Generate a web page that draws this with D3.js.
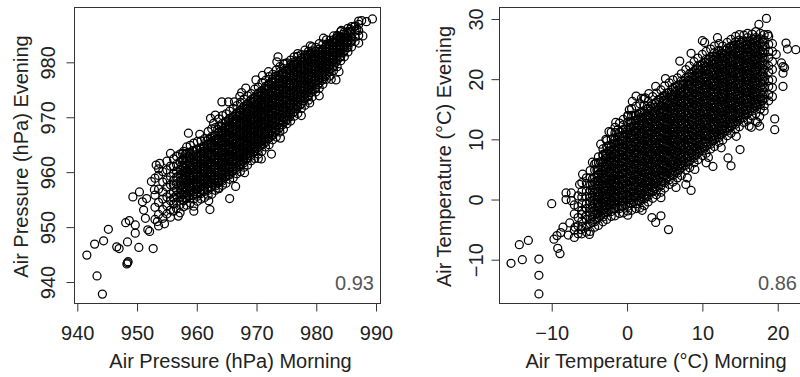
<!DOCTYPE html>
<html>
<head>
<meta charset="utf-8">
<script src="https://cdn.jsdelivr.net/npm/d3@7"></script>
<style>
  body { margin: 0; background: #fff; }
  svg { display: block; font-family: "Liberation Sans", Arial, Helvetica, sans-serif; }
</style>
</head>
<body>
<svg id="chart" width="800" height="377"></svg>
<script>
// ---- data ----
const pressureXTicks = [940, 950, 960, 970, 980, 990];
const pressureYTicks = [940, 950, 960, 970, 980];
const tempXTicks = [-10, 0, 10, 20];
const tempYTicks = [-10, 0, 10, 20, 30];

const titles = {
  pressureX: 'Air Pressure (hPa) Morning',
  pressureY: 'Air Pressure (hPa) Evening',
  tempX: 'Air Temperature (°C) Morning',
  tempY: 'Air Temperature (°C) Evening'
};
const corrLabels = ['0.93', '0.86'];

// isolated points [morning, evening]
const pressureSparse = [
  [941.6,944.9],[943.3,941.1],[944.2,937.8],[942.9,946.9],[944.4,947.5],[945.2,949.6],[946.6,946.4],
  [947.0,946.1],[948.4,947.3],[948.3,943.3],[948.4,943.5],[948.5,943.7],[950.3,946.3],[952.7,946.1],
  [949.7,948.9],[948.1,950.8],[948.7,951.2],[949.3,955.5],[950.4,956.4],[950.9,954.6],[949.7,950.4],
  [951.4,951.6],[951.8,949.5],[952.1,949.2],[951.1,953.1],[952.9,956.8],[953.2,961.3],[953.8,961.6],
  [955.6,963.4],[965.5,955.2],[962.2,953.2],[953.4,951.0],[958.6,967.1],[964.2,972.8],[965.3,972.8],
  [972.0,978.3],[973.6,981.0],[973.4,980.1],[979.0,983.0],[979.0,981.7],[981.2,984.4],[983.8,978.3],
  [978.9,972.6],[972.5,963.3],[970.8,962.4],[970.3,962.5],[966.5,957.4],[963.6,957.1],[983.3,976.8],
  [989.4,987.9],[987.6,987.6],[988.4,987.4],[986.4,986.5],[986.8,986.0],[987.8,984.8],[987.1,983.5],
  [984.2,985.8],[983.6,984.7],[982.3,983.2],[974.8,979.8],[976.4,979.7],[982.5,976.9],[969.9,976.8],
  [968.2,975.3],[967.2,973.8],[966.3,972.8],[975.0,969.5],[962.3,969.8],[963.1,970.4],[957.6,963.4],
  [960.5,966.9],[962.8,968.9],[967.5,974.5],[971.0,977.6],[959.5,952.9],[962.0,954.8],[968.0,959.9],
  [974.0,966.2],[977.5,970.3],[980.5,973.9],[954.6,950.6],[956.9,952.0],[952.4,958.3],[951.6,955.2]
];

// dense part: [morning, evening values...]
const pressureCols = [
  [953.0, 951.4, 953.6, 955.8, 958.9],
  [953.6, 950.2, 952.3, 954.5, 956.9, 959.4, 960.6],
  [954.3, 951.6, 953.2, 955.1, 956.4, 958.2, 960.1],
  [955.0, 952.4, 953.9, 955.5, 957.3, 958.6, 960.4, 962.0],
  [955.6, 951.8, 953.1, 954.8, 956.0, 957.7, 959.2, 961.1],
  [956.1, 952.9, 954.2, 955.3, 956.4, 957.6, 958.5, 959.8, 961.0, 962.4],
  [956.6, 953.4, 954.5, 955.8, 956.8, 957.9, 959.1, 960.2, 961.4, 962.9],
  [957.2, 952.6, 954.1, 955.4, 956.3, 957.5, 958.4, 959.6, 960.5, 961.9, 963.3],
  [957.8, 953.7, 954.8, 955.9, 957.1, 958.0, 958.9, 960.1, 961.1, 962.2, 963.8],
  [958.3, 954.0, 955.2, 956.0, 957.2, 958.1, 959.2, 960.0, 961.2, 962.1, 963.4, 964.6],
  [958.9, 954.4, 955.3, 956.6, 957.4, 958.5, 959.3, 960.4, 961.3, 962.4, 963.3, 964.9],
  [959.5, 953.8, 955.1, 956.1, 957.3, 958.0, 959.1, 959.8, 960.9, 961.7, 962.9, 963.8, 965.3],
  [960.1, 954.7, 955.6, 956.8, 957.5, 958.6, 959.3, 960.4, 961.1, 962.2, 962.9, 964.1, 965.6],
  [960.7, 955.1, 956.1, 956.9, 958.0, 958.7, 959.8, 960.5, 961.6, 962.3, 963.4, 964.2, 965.7],
  [961.3, 955.4, 956.5, 957.3, 958.4, 959.1, 960.2, 960.9, 962.0, 962.7, 963.8, 964.6, 966.1],
  [961.9, 955.8, 956.7, 957.9, 958.6, 959.7, 960.4, 961.5, 962.2, 963.3, 964.0, 965.1, 966.0, 967.4],
  [962.5, 956.0, 957.3, 958.1, 959.2, 959.9, 961.0, 961.7, 962.8, 963.5, 964.6, 965.3, 966.5, 967.9],
  [963.1, 956.7, 957.5, 958.7, 959.4, 960.5, 961.2, 962.3, 963.0, 964.1, 964.8, 965.9, 966.7, 968.1],
  [963.7, 957.0, 958.1, 958.9, 960.0, 960.7, 961.8, 962.5, 963.6, 964.3, 965.4, 966.1, 967.3, 968.4, 969.7],
  [964.3, 957.6, 958.4, 959.6, 960.3, 961.4, 962.1, 963.2, 963.9, 965.0, 965.7, 966.8, 967.5, 968.9, 970.3],
  [964.9, 958.0, 959.2, 960.0, 961.1, 961.8, 962.9, 963.6, 964.7, 965.4, 966.5, 967.2, 968.3, 969.2, 970.6],
  [965.5, 958.7, 959.5, 960.7, 961.4, 962.5, 963.2, 964.3, 965.0, 966.1, 966.8, 967.9, 968.6, 969.8, 971.1],
  [966.1, 959.0, 960.2, 961.0, 962.1, 962.8, 963.9, 964.6, 965.7, 966.4, 967.5, 968.2, 969.3, 970.1, 971.6],
  [966.7, 959.7, 960.5, 961.7, 962.4, 963.5, 964.2, 965.3, 966.0, 967.1, 967.8, 968.9, 969.6, 970.8, 972.1],
  [967.3, 960.1, 961.3, 962.1, 963.2, 963.9, 965.0, 965.7, 966.8, 967.5, 968.6, 969.3, 970.4, 971.3, 972.7],
  [967.9, 960.9, 961.7, 962.9, 963.6, 964.7, 965.4, 966.5, 967.2, 968.3, 969.0, 970.1, 970.8, 972.0, 973.3],
  [968.5, 961.3, 962.5, 963.3, 964.4, 965.1, 966.2, 966.9, 968.0, 968.7, 969.8, 970.5, 971.6, 972.4, 973.9],
  [969.1, 962.1, 962.9, 964.1, 964.8, 965.9, 966.6, 967.7, 968.4, 969.5, 970.2, 971.3, 972.0, 973.2, 974.3],
  [969.7, 962.5, 963.7, 964.5, 965.6, 966.3, 967.4, 968.1, 969.2, 969.9, 971.0, 971.7, 972.8, 973.6, 975.1],
  [970.3, 963.3, 964.1, 965.3, 966.0, 967.1, 967.8, 968.9, 969.6, 970.7, 971.4, 972.5, 973.2, 974.4, 975.5],
  [970.9, 963.8, 964.9, 965.7, 966.8, 967.5, 968.6, 969.3, 970.4, 971.1, 972.2, 972.9, 974.0, 974.8, 976.3],
  [971.5, 964.6, 965.4, 966.5, 967.2, 968.3, 969.0, 970.1, 970.8, 971.9, 972.6, 973.7, 974.4, 975.6, 976.7],
  [972.1, 965.0, 966.2, 967.0, 968.1, 968.8, 969.9, 970.6, 971.7, 972.4, 973.5, 974.2, 975.3, 976.1, 977.4],
  [972.7, 965.9, 966.7, 967.9, 968.6, 969.7, 970.4, 971.5, 972.2, 973.3, 974.0, 975.1, 975.8, 976.9, 977.8],
  [973.3, 966.4, 967.6, 968.4, 969.5, 970.2, 971.3, 972.0, 973.1, 973.8, 974.9, 975.6, 976.7, 977.5, 978.6],
  [973.9, 967.3, 968.1, 969.3, 970.0, 971.1, 971.8, 972.9, 973.6, 974.7, 975.4, 976.5, 977.2, 978.3, 979.2],
  [974.5, 967.8, 969.0, 969.8, 970.9, 971.6, 972.7, 973.4, 974.5, 975.2, 976.3, 977.0, 978.1, 978.9, 979.7],
  [975.1, 968.8, 969.6, 970.7, 971.4, 972.5, 973.2, 974.3, 975.0, 976.1, 976.8, 977.9, 978.6, 979.9],
  [975.7, 969.3, 970.5, 971.3, 972.4, 973.1, 974.2, 974.9, 976.0, 976.7, 977.8, 978.5, 979.6, 980.4],
  [976.3, 970.2, 971.0, 972.2, 972.9, 974.0, 974.7, 975.8, 976.5, 977.6, 978.3, 979.4, 980.1, 981.0],
  [976.9, 970.7, 971.9, 972.7, 973.8, 974.5, 975.6, 976.3, 977.4, 978.1, 979.2, 979.9, 981.1, 981.6],
  [977.5, 971.6, 972.4, 973.6, 974.3, 975.4, 976.1, 977.2, 977.9, 979.0, 979.7, 980.8, 981.4],
  [978.1, 972.2, 973.4, 974.2, 975.3, 976.0, 977.1, 977.8, 978.9, 979.6, 980.7, 981.3, 982.2],
  [978.7, 973.1, 973.9, 975.1, 975.8, 976.9, 977.6, 978.7, 979.4, 980.5, 981.2, 982.0],
  [979.3, 973.7, 974.9, 975.7, 976.8, 977.5, 978.6, 979.3, 980.4, 981.1, 982.1, 982.8],
  [979.9, 974.6, 975.4, 976.6, 977.3, 978.4, 979.1, 980.2, 980.9, 982.0, 982.7],
  [980.5, 975.3, 976.3, 977.1, 978.2, 978.9, 980.0, 980.7, 981.8, 982.4, 983.4],
  [981.1, 976.0, 977.0, 978.0, 978.7, 979.8, 980.5, 981.6, 982.3, 983.3],
  [981.7, 976.9, 977.7, 978.9, 979.6, 980.7, 981.4, 982.5, 983.2, 984.1],
  [982.3, 977.5, 978.7, 979.5, 980.6, 981.3, 982.4, 983.1, 984.0],
  [982.9, 978.5, 979.3, 980.5, 981.2, 982.3, 983.0, 984.1, 984.8],
  [983.5, 979.2, 980.4, 981.2, 982.3, 983.0, 984.0, 984.9],
  [984.1, 980.3, 981.1, 982.2, 982.9, 984.0, 984.7, 985.6],
  [984.7, 981.0, 982.1, 982.8, 983.9, 984.6, 985.5],
  [985.3, 981.9, 982.7, 983.8, 984.5, 985.6, 986.2],
  [985.9, 982.8, 983.9, 984.6, 985.7, 986.5],
  [986.5, 983.8, 984.6, 985.7, 986.6],
  [987.1, 984.9, 985.8, 986.9, 987.5]
];

// the darkest middle of the pressure cloud
const pressureCore = [
  [957.5, 955.0, 955.9, 956.8, 957.7, 958.6, 959.5, 960.4, 961.3, 962.2],
  [958.1, 955.4, 956.3, 957.2, 958.1, 959.0, 959.9, 960.8, 961.7, 962.6, 963.3],
  [958.7, 955.6, 956.5, 957.4, 958.3, 959.2, 960.1, 961.0, 961.9, 962.8, 963.6],
  [959.3, 955.8, 956.7, 957.6, 958.5, 959.4, 960.3, 961.2, 962.1, 963.0, 963.9],
  [959.9, 956.0, 956.9, 957.8, 958.7, 959.6, 960.5, 961.4, 962.3, 963.2, 964.1],
  [960.5, 956.3, 957.2, 958.1, 959.0, 959.9, 960.8, 961.7, 962.6, 963.5, 964.4],
  [961.1, 956.6, 957.5, 958.4, 959.3, 960.2, 961.1, 962.0, 962.9, 963.8, 964.7],
  [961.7, 956.9, 957.8, 958.7, 959.6, 960.5, 961.4, 962.3, 963.2, 964.1, 965.0, 965.7],
  [962.3, 957.3, 958.2, 959.1, 960.0, 960.9, 961.8, 962.7, 963.6, 964.5, 965.4, 966.2],
  [962.9, 957.7, 958.6, 959.5, 960.4, 961.3, 962.2, 963.1, 964.0, 964.9, 965.8, 966.6],
  [963.5, 958.1, 959.0, 959.9, 960.8, 961.7, 962.6, 963.5, 964.4, 965.3, 966.2, 967.1, 967.8],
  [964.1, 958.6, 959.5, 960.4, 961.3, 962.2, 963.1, 964.0, 964.9, 965.8, 966.7, 967.6, 968.4],
  [964.7, 959.1, 960.0, 960.9, 961.8, 962.7, 963.6, 964.5, 965.4, 966.3, 967.2, 968.1, 969.0],
  [965.3, 959.6, 960.5, 961.4, 962.3, 963.2, 964.1, 965.0, 965.9, 966.8, 967.7, 968.6, 969.5],
  [965.9, 960.1, 961.0, 961.9, 962.8, 963.7, 964.6, 965.5, 966.4, 967.3, 968.2, 969.1, 970.0],
  [966.5, 960.7, 961.6, 962.5, 963.4, 964.3, 965.2, 966.1, 967.0, 967.9, 968.8, 969.7, 970.5],
  [967.1, 961.3, 962.2, 963.1, 964.0, 964.9, 965.8, 966.7, 967.6, 968.5, 969.4, 970.3, 971.1],
  [967.7, 961.9, 962.8, 963.7, 964.6, 965.5, 966.4, 967.3, 968.2, 969.1, 970.0, 970.9, 971.7],
  [968.3, 962.5, 963.4, 964.3, 965.2, 966.1, 967.0, 967.9, 968.8, 969.7, 970.6, 971.5, 972.3],
  [968.9, 963.1, 964.0, 964.9, 965.8, 966.7, 967.6, 968.5, 969.4, 970.3, 971.2, 972.1, 972.9],
  [969.5, 963.7, 964.6, 965.5, 966.4, 967.3, 968.2, 969.1, 970.0, 970.9, 971.8, 972.7, 973.5],
  [970.1, 964.3, 965.2, 966.1, 967.0, 967.9, 968.8, 969.7, 970.6, 971.5, 972.4, 973.3, 974.1],
  [970.7, 964.9, 965.8, 966.7, 967.6, 968.5, 969.4, 970.3, 971.2, 972.1, 973.0, 973.9, 974.6],
  [971.3, 965.5, 966.4, 967.3, 968.2, 969.1, 970.0, 970.9, 971.8, 972.7, 973.6, 974.5, 975.2],
  [971.9, 966.1, 967.0, 967.9, 968.8, 969.7, 970.6, 971.5, 972.4, 973.3, 974.2, 975.1, 975.8],
  [972.5, 966.7, 967.6, 968.5, 969.4, 970.3, 971.2, 972.1, 973.0, 973.9, 974.8, 975.7, 976.4],
  [973.1, 967.3, 968.2, 969.1, 970.0, 970.9, 971.8, 972.7, 973.6, 974.5, 975.4, 976.3, 977.0],
  [973.7, 968.0, 968.9, 969.8, 970.7, 971.6, 972.5, 973.4, 974.3, 975.2, 976.1, 977.0, 977.6],
  [974.3, 968.6, 969.5, 970.4, 971.3, 972.2, 973.1, 974.0, 974.9, 975.8, 976.7, 977.6, 978.1],
  [974.9, 969.3, 970.2, 971.1, 972.0, 972.9, 973.8, 974.7, 975.6, 976.5, 977.4, 978.3],
  [975.5, 970.0, 970.9, 971.8, 972.7, 973.6, 974.5, 975.4, 976.3, 977.2, 978.1, 978.9],
  [976.1, 970.8, 971.7, 972.6, 973.5, 974.4, 975.3, 976.2, 977.1, 978.0, 978.9, 979.6],
  [976.7, 971.5, 972.4, 973.3, 974.2, 975.1, 976.0, 976.9, 977.8, 978.7, 979.6, 980.2],
  [977.3, 972.3, 973.2, 974.1, 975.0, 975.9, 976.8, 977.7, 978.6, 979.5, 980.3],
  [977.9, 973.0, 973.9, 974.8, 975.7, 976.6, 977.5, 978.4, 979.3, 980.2, 980.9],
  [978.5, 973.7, 974.6, 975.5, 976.4, 977.3, 978.2, 979.1, 980.0, 980.9, 981.4],
  [979.1, 974.5, 975.4, 976.3, 977.2, 978.1, 979.0, 979.9, 980.8, 981.6],
  [979.7, 975.2, 976.1, 977.0, 977.9, 978.8, 979.7, 980.6, 981.5],
  [980.3, 975.9, 976.8, 977.7, 978.6, 979.5, 980.4, 981.3, 982.0],
  [980.9, 976.7, 977.6, 978.5, 979.4, 980.3, 981.2, 982.1],
  [981.5, 977.5, 978.4, 979.3, 980.2, 981.1, 982.0, 982.8],
  [982.1, 978.3, 979.2, 980.1, 981.0, 981.9, 982.8, 983.4],
  [982.7, 979.1, 980.0, 980.9, 981.8, 982.7, 983.6],
  [983.3, 980.0, 980.9, 981.8, 982.7, 983.6, 984.3],
  [983.9, 980.9, 981.8, 982.7, 983.6, 984.5],
  [984.5, 981.8, 982.7, 983.6, 984.5, 985.1],
  [985.1, 982.7, 983.6, 984.5, 985.4],
  [985.7, 983.6, 984.5, 985.4, 986.0]
];

const tempSparse = [
  [-15.4,-10.6],[-13.9,-10.0],[-14.3,-7.5],[-13.1,-6.8],[-11.7,-9.9],[-11.7,-12.6],[-11.7,-15.7],
  [-10.0,-0.7],[-8.9,-9.0],[-9.2,-8.1],[-9.7,-6.6],[-9.3,-6.0],[-8.8,-5.5],[-8.1,1.1],[-7.4,1.1],
  [-8.1,0.0],[-7.4,-0.2],[-6.3,2.5],[-5.0,-5.8],[-6.1,-5.0],[0.1,-2.6],[-4.1,6.1],[-3.2,7.5],
  [-5.9,4.2],[3.3,-3.0],[4.5,-2.7],[3.8,-3.8],[5.5,-5.0],[8.5,1.5],[7.8,2.5],[8.0,3.6],[15.0,8.3],
  [13.8,5.6],[13.4,6.9],[11.4,5.5],[10.5,6.1],[19.6,11.6],[19.6,13.4],[18.5,30.1],[17.5,29.1],
  [21.1,26.0],[21.3,25.0],[22.4,24.9],[20.7,22.1],[20.7,21.0],[20.7,18.8],[10.3,26.1],[10.0,26.4],
  [5.1,20.1],[3.8,18.8],[0.7,16.3],[-2.4,11.3],[-1.2,11.6],[-2.8,10.0],[-4.6,6.2],[1.2,17.2],
  [2.4,16.9],[0.1,13.8],[17.6,12.2],[17.3,12.8],[20.5,22.7],[20.9,21.9],[19.8,24.1],[18.7,27.4],
  [17.6,13.8],[18.2,14.7],[16.2,12.2],[17.1,13.0],[-8.5,-4.6],[-7.8,-5.9],[-7.6,-3.9],[-6.9,-4.6],
  [-1.5,12.8],[0.3,14.9],[1.9,16.8],[2.9,17.6],[-3.5,9.2],[9.0,5.0],[10.8,7.0],[12.5,8.6],
  [14.5,10.5],[16.5,12.0],[6.5,2.0],[4.5,0.3],[2.0,-1.8],[7.0,23.0],[8.5,24.3],[12.0,26.9]
];

const tempCols = [
  [-7.0, -6.3, -5.1, -2.4, -0.9],
  [-6.5, -5.7, -4.4, -3.0, -1.2, 0.6],
  [-6.0, -5.7, -4.5, -3.6, -2.5, -1.8, -0.7, 0.4, 1.3, 2.8],
  [-5.4, -5.4, -4.4, -3.3, -2.6, -1.5, -0.7, 0.5, 1.4, 2.7, 3.6],
  [-4.9, -5.3, -4.0, -3.2, -2.1, -1.4, -0.3, 0.4, 1.5, 2.3, 3.6, 4.8],
  [-4.3, -4.6, -3.7, -2.5, -1.8, -0.7, 0.0, 1.1, 1.8, 2.9, 3.7, 4.9, 5.9],
  [-3.8, -4.3, -3.0, -2.3, -1.2, -0.5, 0.6, 1.3, 2.4, 3.1, 4.2, 4.9, 6.1, 7.1],
  [-3.2, -3.7, -2.9, -1.8, -1.1, 0.0, 0.7, 1.8, 2.5, 3.6, 4.3, 5.4, 6.1, 7.3, 8.4],
  [-2.7, -3.3, -2.1, -1.4, -0.3, 0.4, 1.5, 2.2, 3.3, 4.0, 5.1, 5.8, 6.9, 7.6, 8.8, 9.8],
  [-2.1, -2.8, -2.0, -0.9, -0.2, 0.9, 1.6, 2.7, 3.4, 4.5, 5.2, 6.3, 7.0, 8.1, 8.8, 10.0, 11.2],
  [-1.6, -2.7, -1.5, -0.8, 0.3, 1.0, 2.1, 2.8, 3.9, 4.6, 5.7, 6.4, 7.5, 8.2, 9.3, 10.0, 11.1, 12.0],
  [-1.0, -2.3, -1.5, -0.4, 0.3, 1.4, 2.1, 3.2, 3.9, 5.0, 5.7, 6.8, 7.5, 8.6, 9.3, 10.4, 11.2, 12.7],
  [-0.5, -2.2, -1.1, -0.4, 0.7, 1.4, 2.5, 3.2, 4.3, 5.0, 6.1, 6.8, 7.9, 8.6, 9.7, 10.4, 11.6, 12.4, 13.3],
  [0.1, -1.9, -1.1, 0.0, 0.7, 1.8, 2.5, 3.6, 4.3, 5.4, 6.1, 7.2, 7.9, 9.0, 9.7, 10.8, 11.6, 12.9, 14.0],
  [0.6, -1.8, -0.7, 0.0, 1.1, 1.8, 2.9, 3.6, 4.7, 5.4, 6.5, 7.2, 8.3, 9.0, 10.1, 10.8, 11.9, 12.7, 14.0, 15.1],
  [1.2, -1.5, -0.7, 0.4, 1.1, 2.2, 2.9, 4.0, 4.7, 5.8, 6.5, 7.6, 8.3, 9.4, 10.1, 11.2, 11.9, 13.1, 14.0, 15.5],
  [1.7, -1.4, -0.3, 0.4, 1.5, 2.2, 3.3, 4.0, 5.1, 5.8, 6.9, 7.6, 8.7, 9.4, 10.5, 11.2, 12.3, 13.1, 14.4, 15.9],
  [2.3, -1.0, 0.1, 0.8, 1.9, 2.6, 3.7, 4.4, 5.5, 6.2, 7.3, 8.0, 9.1, 9.8, 10.9, 11.6, 12.7, 13.5, 14.6, 15.6, 16.7],
  [2.8, -0.4, 0.5, 1.3, 2.4, 3.1, 4.2, 4.9, 6.0, 6.7, 7.8, 8.5, 9.6, 10.3, 11.4, 12.1, 13.2, 14.0, 15.1, 16.3],
  [3.4, 0.2, 1.3, 2.0, 3.1, 3.8, 4.9, 5.6, 6.7, 7.4, 8.5, 9.2, 10.3, 11.0, 12.1, 12.8, 13.9, 14.6, 15.8, 17.1],
  [3.9, 0.8, 1.6, 2.7, 3.4, 4.5, 5.2, 6.3, 7.0, 8.1, 8.8, 9.9, 10.6, 11.7, 12.4, 13.5, 14.2, 15.3, 16.2, 17.7],
  [4.5, 1.2, 2.3, 3.0, 4.1, 4.8, 5.9, 6.6, 7.7, 8.4, 9.5, 10.2, 11.3, 12.0, 13.1, 13.8, 14.9, 15.6, 16.8, 18.2],
  [5.0, 1.9, 2.8, 3.9, 4.6, 5.7, 6.4, 7.5, 8.2, 9.3, 10.0, 11.1, 11.8, 12.9, 13.6, 14.7, 15.4, 16.5, 17.3, 18.9],
  [5.6, 2.5, 3.3, 4.4, 5.1, 6.2, 6.9, 8.0, 8.7, 9.8, 10.5, 11.6, 12.3, 13.4, 14.1, 15.2, 15.9, 17.0, 17.8, 19.4],
  [6.1, 2.9, 4.0, 4.7, 5.8, 6.5, 7.6, 8.3, 9.4, 10.1, 11.2, 11.9, 13.0, 13.7, 14.8, 15.5, 16.6, 17.3, 18.5, 19.9],
  [6.7, 3.6, 4.4, 5.5, 6.2, 7.3, 8.0, 9.1, 9.8, 10.9, 11.6, 12.7, 13.4, 14.5, 15.2, 16.3, 17.0, 18.1, 18.9, 20.2],
  [7.2, 4.0, 5.2, 5.9, 7.0, 7.7, 8.8, 9.5, 10.6, 11.3, 12.4, 13.1, 14.2, 14.9, 16.0, 16.7, 17.8, 18.5, 19.7, 20.9],
  [7.8, 4.9, 5.7, 6.8, 7.5, 8.6, 9.3, 10.4, 11.1, 12.2, 12.9, 14.0, 14.7, 15.8, 16.5, 17.6, 18.3, 19.4, 20.2, 21.6],
  [8.3, 5.3, 6.4, 7.1, 8.2, 8.9, 10.0, 10.7, 11.8, 12.5, 13.6, 14.3, 15.4, 16.1, 17.2, 17.9, 19.0, 19.7, 20.9, 22.2],
  [8.9, 6.1, 6.9, 8.0, 8.7, 9.8, 10.5, 11.6, 12.3, 13.4, 14.1, 15.2, 15.9, 17.0, 17.7, 18.8, 19.5, 20.6, 21.4, 22.9],
  [9.4, 6.6, 7.7, 8.4, 9.5, 10.2, 11.3, 12.0, 13.1, 13.8, 14.9, 15.6, 16.7, 17.4, 18.5, 19.2, 20.3, 21.0, 22.2, 23.5],
  [10.0, 7.3, 8.1, 9.2, 9.9, 11.0, 11.7, 12.8, 13.5, 14.6, 15.3, 16.4, 17.1, 18.2, 18.9, 20.0, 20.7, 21.8, 22.6, 24.1],
  [10.5, 7.7, 8.8, 9.5, 10.6, 11.3, 12.4, 13.1, 14.2, 14.9, 16.0, 16.7, 17.8, 18.5, 19.6, 20.3, 21.4, 22.1, 23.3, 24.6],
  [11.1, 8.4, 9.2, 10.3, 11.0, 12.1, 12.8, 13.9, 14.6, 15.7, 16.4, 17.5, 18.2, 19.3, 20.0, 21.1, 21.8, 22.9, 23.7, 25.0],
  [11.6, 8.8, 9.9, 10.6, 11.7, 12.4, 13.5, 14.2, 15.3, 16.0, 17.1, 17.8, 18.9, 19.6, 20.7, 21.4, 22.5, 23.2, 24.4, 25.5],
  [12.2, 9.5, 10.3, 11.4, 12.1, 13.2, 13.9, 15.0, 15.7, 16.8, 17.5, 18.6, 19.3, 20.4, 21.1, 22.2, 22.9, 24.0, 24.8, 25.9],
  [12.7, 9.9, 11.0, 11.7, 12.8, 13.5, 14.6, 15.3, 16.4, 17.1, 18.2, 18.9, 20.0, 20.7, 21.8, 22.5, 23.6, 24.3, 25.5],
  [13.3, 10.6, 11.4, 12.5, 13.2, 14.3, 15.0, 16.1, 16.8, 17.9, 18.6, 19.7, 20.4, 21.5, 22.2, 23.3, 24.0, 25.1, 26.1],
  [13.8, 11.0, 12.1, 12.8, 13.9, 14.6, 15.7, 16.4, 17.5, 18.2, 19.3, 20.0, 21.1, 21.8, 22.9, 23.6, 24.7, 25.5, 26.6],
  [14.4, 11.7, 12.5, 13.6, 14.3, 15.4, 16.1, 17.2, 17.9, 19.0, 19.7, 20.8, 21.5, 22.6, 23.3, 24.4, 25.1, 26.2, 27.1],
  [14.9, 12.1, 13.2, 13.9, 15.0, 15.7, 16.8, 17.5, 18.6, 19.3, 20.4, 21.1, 22.2, 22.9, 24.0, 24.7, 25.8, 26.5, 27.4],
  [15.5, 12.8, 13.6, 14.7, 15.4, 16.5, 17.2, 18.3, 19.0, 20.1, 20.8, 21.9, 22.6, 23.7, 24.4, 25.5, 26.2, 27.3],
  [16.0, 13.2, 14.3, 15.0, 16.1, 16.8, 17.9, 18.6, 19.7, 20.4, 21.5, 22.2, 23.3, 24.0, 25.1, 25.8, 26.9, 27.6],
  [16.6, 13.9, 14.7, 15.8, 16.5, 17.6, 18.3, 19.4, 20.1, 21.2, 21.9, 23.0, 23.7, 24.8, 25.5, 26.6, 27.5],
  [17.1, 14.3, 15.4, 16.1, 17.2, 17.9, 19.0, 19.7, 20.8, 21.5, 22.6, 23.3, 24.4, 25.1, 26.2, 26.9, 27.9],
  [17.7, 15.0, 15.8, 16.9, 17.6, 18.7, 19.4, 20.5, 21.2, 22.3, 23.0, 24.1, 24.8, 25.9, 26.7, 27.6],
  [18.2, 15.6, 16.7, 17.5, 18.6, 19.7, 20.5, 21.6, 22.4, 23.5, 24.4, 25.5, 26.5, 27.4],
  [18.8, 16.4, 17.4, 18.8, 19.8, 21.2, 22.2, 23.6, 24.6, 25.8, 27.1],
  [19.3, 17.1, 18.6, 19.9, 21.6, 22.9, 24.6, 25.9]
];

// the darkest middle of the temperature cloud
const tempCore = [
  [-4.6, -3.8, -2.9, -2.0, -1.1, -0.2, 0.7, 1.6, 2.5, 3.4],
  [-4.0, -3.2, -2.3, -1.4, -0.5, 0.4, 1.3, 2.2, 3.1, 4.0, 4.9],
  [-3.5, -2.7, -1.8, -0.9, 0.0, 0.9, 1.8, 2.7, 3.6, 4.5, 5.4, 6.3],
  [-2.9, -2.2, -1.3, -0.4, 0.5, 1.4, 2.3, 3.2, 4.1, 5.0, 5.9, 6.8, 7.7],
  [-2.4, -1.8, -0.9, 0.0, 0.9, 1.8, 2.7, 3.6, 4.5, 5.4, 6.3, 7.2, 8.1, 9.0],
  [-1.8, -1.5, -0.6, 0.3, 1.2, 2.1, 3.0, 3.9, 4.8, 5.7, 6.6, 7.5, 8.4, 9.3, 10.2],
  [-1.3, -1.3, -0.4, 0.5, 1.4, 2.3, 3.2, 4.1, 5.0, 5.9, 6.8, 7.7, 8.6, 9.5, 10.4],
  [-0.7, -1.1, -0.2, 0.7, 1.6, 2.5, 3.4, 4.3, 5.2, 6.1, 7.0, 7.9, 8.8, 9.7, 10.6, 11.5],
  [-0.2, -0.9, 0.0, 0.9, 1.8, 2.7, 3.6, 4.5, 5.4, 6.3, 7.2, 8.1, 9.0, 9.9, 10.8, 11.7],
  [0.4, -0.6, 0.3, 1.2, 2.1, 3.0, 3.9, 4.8, 5.7, 6.6, 7.5, 8.4, 9.3, 10.2, 11.1, 12.0, 12.9],
  [0.9, -0.4, 0.5, 1.4, 2.3, 3.2, 4.1, 5.0, 5.9, 6.8, 7.7, 8.6, 9.5, 10.4, 11.3, 12.2, 13.1, 13.9],
  [1.5, -0.2, 0.7, 1.6, 2.5, 3.4, 4.3, 5.2, 6.1, 7.0, 7.9, 8.8, 9.7, 10.6, 11.5, 12.4, 13.3, 14.2],
  [2.0, 0.1, 1.0, 1.9, 2.8, 3.7, 4.6, 5.5, 6.4, 7.3, 8.2, 9.1, 10.0, 10.9, 11.8, 12.7, 13.6, 14.5],
  [2.6, 0.6, 1.5, 2.4, 3.3, 4.2, 5.1, 6.0, 6.9, 7.8, 8.7, 9.6, 10.5, 11.4, 12.3, 13.2, 14.1, 15.0],
  [3.1, 1.2, 2.1, 3.0, 3.9, 4.8, 5.7, 6.6, 7.5, 8.4, 9.3, 10.2, 11.1, 12.0, 12.9, 13.8, 14.7, 15.5],
  [3.7, 1.8, 2.7, 3.6, 4.5, 5.4, 6.3, 7.2, 8.1, 9.0, 9.9, 10.8, 11.7, 12.6, 13.5, 14.4, 15.3, 16.0],
  [4.2, 2.3, 3.2, 4.1, 5.0, 5.9, 6.8, 7.7, 8.6, 9.5, 10.4, 11.3, 12.2, 13.1, 14.0, 14.9, 15.8, 16.6],
  [4.8, 2.9, 3.8, 4.7, 5.6, 6.5, 7.4, 8.3, 9.2, 10.1, 11.0, 11.9, 12.8, 13.7, 14.6, 15.5, 16.4, 17.2],
  [5.3, 3.5, 4.4, 5.3, 6.2, 7.1, 8.0, 8.9, 9.8, 10.7, 11.6, 12.5, 13.4, 14.3, 15.2, 16.1, 17.0, 17.7],
  [5.9, 4.0, 4.9, 5.8, 6.7, 7.6, 8.5, 9.4, 10.3, 11.2, 12.1, 13.0, 13.9, 14.8, 15.7, 16.6, 17.5, 18.2],
  [6.4, 4.5, 5.4, 6.3, 7.2, 8.1, 9.0, 9.9, 10.8, 11.7, 12.6, 13.5, 14.4, 15.3, 16.2, 17.1, 18.0, 18.7],
  [7.0, 5.0, 5.9, 6.8, 7.7, 8.6, 9.5, 10.4, 11.3, 12.2, 13.1, 14.0, 14.9, 15.8, 16.7, 17.6, 18.5, 19.1],
  [7.5, 5.6, 6.5, 7.4, 8.3, 9.2, 10.1, 11.0, 11.9, 12.8, 13.7, 14.6, 15.5, 16.4, 17.3, 18.2, 19.1, 19.7],
  [8.1, 6.3, 7.2, 8.1, 9.0, 9.9, 10.8, 11.7, 12.6, 13.5, 14.4, 15.3, 16.2, 17.1, 18.0, 18.9, 19.8, 20.4],
  [8.6, 6.9, 7.8, 8.7, 9.6, 10.5, 11.4, 12.3, 13.2, 14.1, 15.0, 15.9, 16.8, 17.7, 18.6, 19.5, 20.4, 21.1],
  [9.2, 7.5, 8.4, 9.3, 10.2, 11.1, 12.0, 12.9, 13.8, 14.7, 15.6, 16.5, 17.4, 18.3, 19.2, 20.1, 21.0, 21.7],
  [9.7, 8.1, 9.0, 9.9, 10.8, 11.7, 12.6, 13.5, 14.4, 15.3, 16.2, 17.1, 18.0, 18.9, 19.8, 20.7, 21.6, 22.3],
  [10.3, 8.7, 9.6, 10.5, 11.4, 12.3, 13.2, 14.1, 15.0, 15.9, 16.8, 17.7, 18.6, 19.5, 20.4, 21.3, 22.2, 22.8],
  [10.8, 9.2, 10.1, 11.0, 11.9, 12.8, 13.7, 14.6, 15.5, 16.4, 17.3, 18.2, 19.1, 20.0, 20.9, 21.8, 22.7, 23.3],
  [11.4, 9.8, 10.7, 11.6, 12.5, 13.4, 14.3, 15.2, 16.1, 17.0, 17.9, 18.8, 19.7, 20.6, 21.5, 22.4, 23.3, 23.8],
  [11.9, 10.3, 11.2, 12.1, 13.0, 13.9, 14.8, 15.7, 16.6, 17.5, 18.4, 19.3, 20.2, 21.1, 22.0, 22.9, 23.8, 24.2],
  [12.5, 10.8, 11.7, 12.6, 13.5, 14.4, 15.3, 16.2, 17.1, 18.0, 18.9, 19.8, 20.7, 21.6, 22.5, 23.4, 24.3],
  [13.0, 11.4, 12.3, 13.2, 14.1, 15.0, 15.9, 16.8, 17.7, 18.6, 19.5, 20.4, 21.3, 22.2, 23.1, 24.0, 24.8],
  [13.6, 11.9, 12.8, 13.7, 14.6, 15.5, 16.4, 17.3, 18.2, 19.1, 20.0, 20.9, 21.8, 22.7, 23.6, 24.5, 25.2],
  [14.1, 12.5, 13.4, 14.3, 15.2, 16.1, 17.0, 17.9, 18.8, 19.7, 20.6, 21.5, 22.4, 23.3, 24.2, 25.1, 25.6],
  [14.7, 13.0, 13.9, 14.8, 15.7, 16.6, 17.5, 18.4, 19.3, 20.2, 21.1, 22.0, 22.9, 23.8, 24.7, 25.6],
  [15.2, 13.6, 14.5, 15.4, 16.3, 17.2, 18.1, 19.0, 19.9, 20.8, 21.7, 22.6, 23.5, 24.4, 25.3, 26.1],
  [15.8, 14.1, 15.0, 15.9, 16.8, 17.7, 18.6, 19.5, 20.4, 21.3, 22.2, 23.1, 24.0, 24.9, 25.8, 26.3],
  [16.3, 14.7, 15.6, 16.5, 17.4, 18.3, 19.2, 20.1, 21.0, 21.9, 22.8, 23.7, 24.6, 25.5, 26.3],
  [16.9, 15.2, 16.1, 17.0, 17.9, 18.8, 19.7, 20.6, 21.5, 22.4, 23.3, 24.2, 25.1, 26.0, 26.6],
  [17.4, 15.8, 16.7, 17.6, 18.5, 19.4, 20.3, 21.2, 22.1, 23.0, 23.9, 24.8, 25.7, 26.5],
  [18.0, 16.4, 17.3, 18.2, 19.1, 20.0, 20.9, 21.8, 22.7, 23.6, 24.5, 25.4, 26.2]
];

// ---- drawing ----
const svg = d3.select('#chart');
const FONT = 20;

function toPoints(sparse, ...colSets) {
  const pts = sparse.slice();
  colSets.forEach(cols => cols.forEach(c => c.slice(1).forEach(v => pts.push([c[0], v]))));
  return pts;
}

function drawPanel(p) {
  const x = d3.scaleLinear().domain(p.xDomain).range([p.box[0], p.box[1]]);
  const y = d3.scaleLinear().domain(p.yDomain).range([p.box[3], p.box[2]]);
  const g = svg.append('g');

  g.append('g')
    .selectAll('circle')
    .data(p.points)
    .join('circle')
    .attr('cx', d => x(d[0]))
    .attr('cy', d => y(d[1]))
    .attr('r', 4)
    .attr('fill', 'none')
    .attr('stroke', '#000')
    .attr('stroke-width', 1.25);

  g.append('rect')
    .attr('x', p.box[0]).attr('y', p.box[2])
    .attr('width', p.box[1] - p.box[0]).attr('height', p.box[3] - p.box[2])
    .attr('fill', 'none').attr('stroke', '#333').attr('stroke-width', 1);

  // bottom axis
  g.append('g')
    .attr('transform', `translate(0,${p.box[3]})`)
    .call(d3.axisBottom(x).tickValues(p.xTicks).tickSize(8).tickFormat(d3.format('d')))
    .attr('font-size', FONT).attr('font-family', null)
    .call(a => a.select('.domain').remove())
    .call(a => a.selectAll('line').attr('stroke', '#333'))
    .call(a => a.selectAll('text').attr('y', 36).attr('dy', null).attr('fill', '#222'));

  // left axis, labels parallel to axis
  g.append('g')
    .attr('transform', `translate(${p.box[0]},0)`)
    .call(d3.axisLeft(y).tickValues(p.yTicks).tickSize(8).tickFormat(d3.format('d')))
    .attr('font-size', FONT).attr('font-family', null)
    .call(a => a.select('.domain').remove())
    .call(a => a.selectAll('line').attr('stroke', '#333'))
    .call(a => a.selectAll('text')
      .attr('x', 0).attr('y', -p.yLabelGap).attr('dy', null)
      .attr('transform', 'rotate(-90)')
      .attr('text-anchor', 'middle').attr('fill', '#222'));

  g.append('text')
    .attr('x', (p.box[0] + p.box[1]) / 2 + 3).attr('y', 367.5)
    .attr('text-anchor', 'middle').attr('font-size', FONT).attr('fill', '#222')
    .text(p.xTitle);

  g.append('text')
    .attr('transform', `translate(${p.yTitleX},${(p.box[2] + p.box[3]) / 2 + 1}) rotate(-90)`)
    .attr('text-anchor', 'middle').attr('font-size', FONT).attr('fill', '#222')
    .text(p.yTitle);

  g.append('text')
    .attr('x', p.corrX).attr('y', 290)
    .attr('text-anchor', 'end').attr('font-size', FONT).attr('fill', '#555')
    .text(p.corr);
}

drawPanel({
  points: toPoints(pressureSparse, pressureCols, pressureCore),
  box: [74.5, 380.5, 7.5, 303.5],
  xDomain: [939.53, 990.75],
  yDomain: [936.09, 989.98],
  xTicks: pressureXTicks,
  yTicks: pressureYTicks,
  yLabelGap: 19.5,
  yTitleX: 28,
  xTitle: titles.pressureX,
  yTitle: titles.pressureY,
  corr: corrLabels[0],
  corrX: 374
});

drawPanel({
  points: toPoints(tempSparse, tempCols, tempCore),
  box: [499.5, 806.5, 7.5, 303.5],
  xDomain: [-16.93, 23.82],
  yDomain: [-17.28, 31.91],
  xTicks: tempXTicks,
  yTicks: tempYTicks,
  yLabelGap: 16.5,
  yTitleX: 451,
  xTitle: titles.tempX,
  yTitle: titles.tempY,
  corr: corrLabels[1],
  corrX: 797
});
</script>
</body>
</html>
